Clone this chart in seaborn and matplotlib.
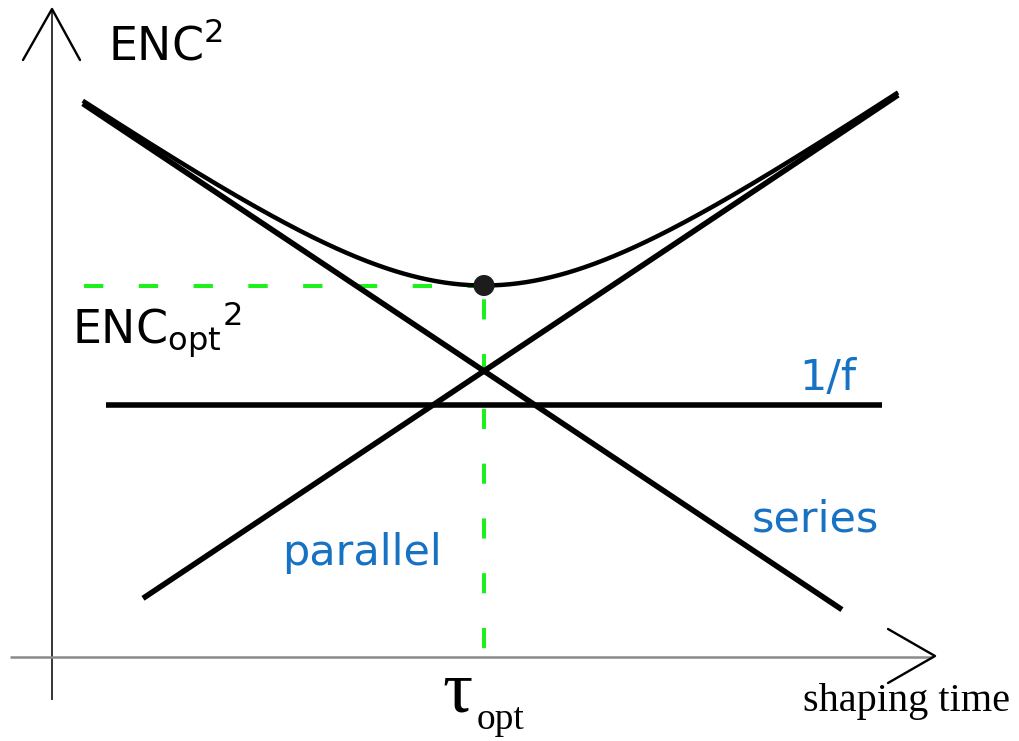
import numpy as np
import pandas as pd
import matplotlib
matplotlib.use("Agg")
import matplotlib.pyplot as plt
import seaborn as sns

# Noise contributions to ENC^2 as a function of shaping time (arbitrary units)
series_coef = 1.0       # series (voltage) noise  ~ 1/tau
parallel_coef = 1.0     # parallel (current) noise ~ tau
flicker_level = 0.676   # 1/f noise, independent of tau

series_tau = [0.046, 15.6]
parallel_tau = [0.073, 24.0]
flicker_tau = [0.055, 21.2]
total_tau = [0.046, 24.0]
guide_tau_start = 0.0464
guide_enc2_floor = 0.0372

labels = {"series": "series", "parallel": "parallel", "flicker": "1/f"}

W, H = 1019, 741
sns.set_theme(style="white")
plt.rcParams["font.family"] = ["DejaVu Sans"]

fig = plt.figure(figsize=(W / 100, H / 100), dpi=100)

# pixel-space layer for the hand-drawn axes with open arrowheads
deco = fig.add_axes([0, 0, 1, 1], zorder=0)
deco.set_xlim(0, W)
deco.set_ylim(H, 0)
deco.axis("off")
deco.plot([52, 52], [700, 9], color="black", lw=1.1, solid_capstyle="butt")
deco.plot([23, 52, 80], [60, 9, 60], color="black", lw=1.7)
deco.plot([10, 932], [657, 657], color="#8a8a8a", lw=1.8, solid_capstyle="butt")
deco.plot([888, 935, 888], [629, 656, 683], color="black", lw=1.7)

# data layer on log-log scales
ax = fig.add_axes([0, 0, 1, 1], zorder=1)
ax.patch.set_alpha(0)
ax.set_xscale("log")
ax.set_yscale("log")
ax.set_xlim(10 ** (-484 / 300), 10 ** (535 / 300))
ax.set_ylim(10 ** (-370 / 200), 10 ** (371 / 200))
ax.axis("off")

series_df = pd.DataFrame({"tau": series_tau,
                          "enc2": [series_coef / t for t in series_tau]})
parallel_df = pd.DataFrame({"tau": parallel_tau,
                            "enc2": [parallel_coef * t for t in parallel_tau]})
flicker_df = pd.DataFrame({"tau": flicker_tau,
                           "enc2": [flicker_level] * len(flicker_tau)})

tau_grid = np.geomspace(total_tau[0], total_tau[1], 400)
total_df = pd.DataFrame({"tau": tau_grid,
                         "enc2": series_coef / tau_grid + parallel_coef * tau_grid + flicker_level})

tau_opt = np.sqrt(series_coef / parallel_coef)
enc2_opt = series_coef / tau_opt + parallel_coef * tau_opt + flicker_level

line_kw = dict(color="black", estimator=None, legend=False, ax=ax)
for df in (series_df, parallel_df, flicker_df):
    sns.lineplot(data=df, x="tau", y="enc2", lw=4.0, solid_capstyle="butt", **line_kw)
sns.lineplot(data=total_df, x="tau", y="enc2", lw=3.2, solid_capstyle="butt", **line_kw)

# optimum guides
green = "#1ef01e"
ax.plot([guide_tau_start, tau_opt], [enc2_opt, enc2_opt], color=green, lw=2.9,
        linestyle=(0, (4.8, 8.8)), dash_capstyle="butt", zorder=1)
ax.plot([tau_opt, tau_opt], [enc2_opt, guide_enc2_floor], color=green, lw=2.9,
        linestyle=(10.3, (5.0, 8.6)), dash_capstyle="butt", zorder=1)
sns.scatterplot(x=[tau_opt], y=[enc2_opt], s=230, color="#1c1c1c",
                edgecolor="none", ax=ax, zorder=5, legend=False)


def ftext(x, y, s, **kw):
    fig.text(x / W, 1 - y / H, s, **kw)


blue = "#1872c4"
ftext(108, 60, r"ENC$^{2}$", fontsize=33, color="black")
ftext(72, 343, r"ENC$_{\mathrm{opt}}{}^{2}$", fontsize=33, color="black")
ftext(828, 390, labels["flicker"], fontsize=31, color=blue, ha="center")
ftext(752, 531, labels["series"], fontsize=31, color=blue)
ftext(282, 565, labels["parallel"], fontsize=31, color=blue)
ftext(442, 712, "τ", fontsize=54, color="black", family="Liberation Serif")
ftext(477, 729, "opt", fontsize=27, color="black", family="Liberation Serif")
ftext(803, 711, "shaping time", fontsize=29, color="black", family="Liberation Serif")

fig.savefig("out.png", dpi=100)
